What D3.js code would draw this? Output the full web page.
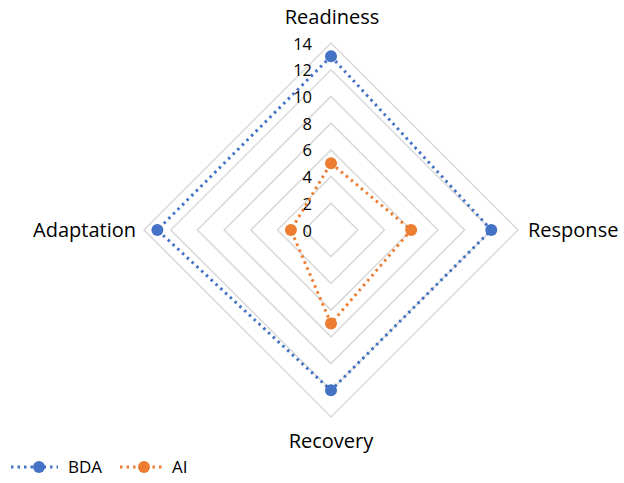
<!DOCTYPE html>
<html><head><meta charset="utf-8">
<script src="https://cdn.jsdelivr.net/npm/d3@7"></script>
<style>body{margin:0;background:#fff}svg{display:block}text{font-family:"Open Sans","Liberation Sans",sans-serif;fill:#000}</style>
</head><body>
<svg id="c" width="624" height="483"></svg>
<script>
const axes = ["Readiness", "Response", "Recovery", "Adaptation"];
const bda = [13, 12, 12, 13];
const ai = [5, 6, 7, 3];
const ticks = [0, 2, 4, 6, 8, 10, 12, 14];
const seriesNames = ["BDA", "AI"];
const colors = ["#4472C4", "#ED7D31"];

const svg = d3.select("#c");
const cx = 331, cy = 230, R = 187;
const r = d3.scaleLinear().domain([0, 14]).range([0, R]);
const ang = i => -Math.PI / 2 + i * 2 * Math.PI / axes.length;
const pt = (v, i) => [cx + r(v) * Math.cos(ang(i)), cy + r(v) * Math.sin(ang(i))];
const line = d3.line().curve(d3.curveLinearClosed);

// grid
ticks.slice(1).forEach(t => {
  svg.append("path").attr("d", line(axes.map((a, i) => pt(t, i))))
    .attr("fill", "none").attr("stroke", "#d9d9d9").attr("stroke-width", 1.5);
});
// tick labels
ticks.forEach(t => {
  svg.append("text").attr("x", cx - 19).attr("y", cy - r(t)).attr("text-anchor", "end")
    .attr("dominant-baseline", "central").attr("font-size", 16.5).text(t);
});
// series
[bda, ai].forEach((vals, s) => {
  const pts = vals.map((v, i) => pt(v, i));
  svg.append("path").attr("d", line(pts)).attr("fill", "none").attr("stroke", colors[s])
    .attr("stroke-width", 3).attr("stroke-dasharray", "2.5,4").attr("stroke-linecap", "butt");
  pts.forEach(p => svg.append("circle").attr("cx", p[0]).attr("cy", p[1]).attr("r", 6).attr("fill", colors[s]));
});
// axis labels
const lab = [
  {x: cx + 1, y: 24, a: "middle"},
  {x: 528, y: cy + 7, a: "start"},
  {x: cx, y: 448, a: "middle"},
  {x: 136, y: cy + 7, a: "end"}
];
axes.forEach((a, i) => svg.append("text").attr("x", lab[i].x).attr("y", lab[i].y)
  .attr("text-anchor", lab[i].a).attr("font-size", 20).text(a));
// legend
const lg = [{x0: 11, x1: 58, m: 39, t: 68}, {x0: 120, x1: 163, m: 144, t: 172}];
seriesNames.forEach((n, s) => {
  const L = lg[s], y = 467;
  svg.append("line").attr("x1", L.x0).attr("x2", L.x1).attr("y1", y).attr("y2", y)
    .attr("stroke", colors[s]).attr("stroke-width", 3).attr("stroke-dasharray", "2.5,4");
  svg.append("circle").attr("cx", L.m).attr("cy", y).attr("r", 6).attr("fill", colors[s]);
  svg.append("text").attr("x", L.t).attr("y", y + 6).attr("font-size", 17).text(n);
});
</script>
</body></html>
